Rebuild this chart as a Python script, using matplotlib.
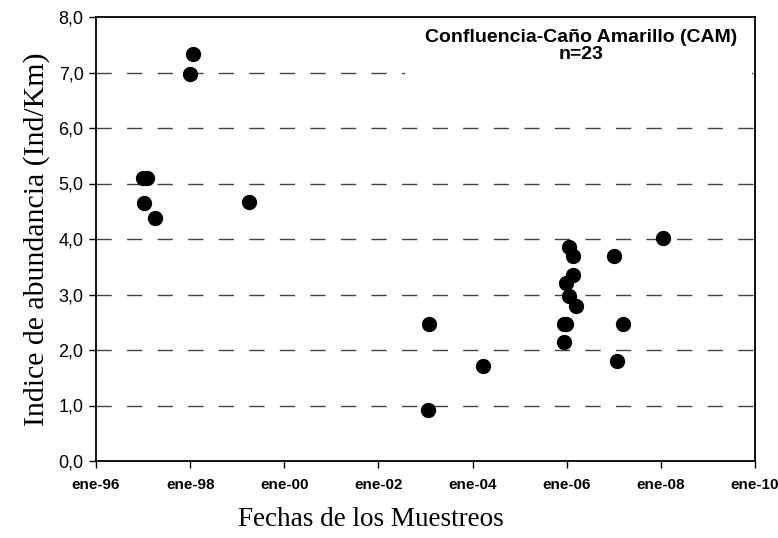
import numpy as np
import pandas as pd
import matplotlib
matplotlib.use("Agg")
import matplotlib.pyplot as plt
import matplotlib.dates as mdates
from matplotlib.ticker import FuncFormatter, MultipleLocator
from matplotlib.patches import Rectangle

#- Sampling dates and abundance index (Ind/Km)
sample_dates = [
    "1998-01-26", "1997-12-30", "1996-12-29", "1997-02-03", "1997-01-08",
    "1997-04-03", "1999-04-01", "2003-01-26", "2003-01-22", "2004-03-20",
    "2006-01-15", "2006-02-20", "2006-02-20", "2005-12-28", "2006-01-15",
    "2006-03-15", "2005-12-10", "2005-12-28", "2005-12-13", "2007-01-01",
    "2007-03-14", "2007-01-23", "2008-01-20",
]
abundance = [
    7.33, 6.97, 5.10, 5.10, 4.65,
    4.38, 4.67, 2.47, 0.91, 1.72,
    3.86, 3.69, 3.36, 3.20, 2.97,
    2.79, 2.46, 2.46, 2.14, 3.69,
    2.46, 1.80, 4.01,
]
tick_years = [1996, 1998, 2000, 2002, 2004, 2006, 2008, 2010]
meses = ["ene", "feb", "mar", "abr", "may", "jun",
         "jul", "ago", "sep", "oct", "nov", "dic"]

dates = pd.to_datetime(sample_dates)

#- Plot graph:
fig = plt.figure(figsize=(7.78, 5.38), dpi=100)
ax = fig.add_axes([96 / 778, 77 / 538, 659 / 778, 444 / 538])

for yv in range(1, 8):
    ax.axhline(yv, color="#444444", lw=1.0, linestyle=(0, (11, 11)), zorder=1)

# white box behind the site label
ax.add_patch(Rectangle((0.469, 0.862), 0.526, 0.135, transform=ax.transAxes,
                       facecolor="white", edgecolor="none", zorder=2))

ax.plot(dates, abundance, "o", color="black", ms=10, zorder=3)

ax.set_xlim(pd.Timestamp("1996-01-01"), pd.Timestamp("2010-01-01"))
ax.set_ylim(0, 8)
ax.set_xticks([pd.Timestamp(f"{y}-01-01") for y in tick_years])


def fmt_fecha(x, pos):
    d = mdates.num2date(x)
    return f"{meses[d.month - 1]}-{d.year % 100:02d}"


ax.xaxis.set_major_formatter(FuncFormatter(fmt_fecha))
ax.yaxis.set_major_locator(MultipleLocator(1))
ax.yaxis.set_major_formatter(FuncFormatter(lambda v, p: f"{v:.1f}".replace(".", ",")))

for s in ax.spines.values():
    s.set_linewidth(1.3)
    s.set_color("black")

ax.tick_params(axis="both", direction="out", length=5, width=1.0, color="black")
ax.tick_params(axis="y", labelsize=13, pad=4)
ax.tick_params(axis="x", labelsize=11, pad=7)
for lab in ax.get_xticklabels():
    lab.set_fontweight("bold")
    lab.set_family("Liberation Sans")
for lab in ax.get_yticklabels():
    lab.set_family("Liberation Sans")

ax.set_ylabel("Indice de abundancia (Ind/Km)", family="Liberation Serif",
              fontsize=21.5, labelpad=6)
fig.text(371 / 778, 1 - 519 / 538, "Fechas de los Muestreos",
         family="Liberation Serif", fontsize=19.5, ha="center", va="center")

ax.text(0.736, 0.935, "Confluencia-Caño Amarillo (CAM)\nn=23",
        transform=ax.transAxes, ha="center", va="center",
        family="Liberation Sans", fontweight="bold", fontsize=14,
        linespacing=1.05, zorder=4)

fig.savefig("out.png", dpi=100)
